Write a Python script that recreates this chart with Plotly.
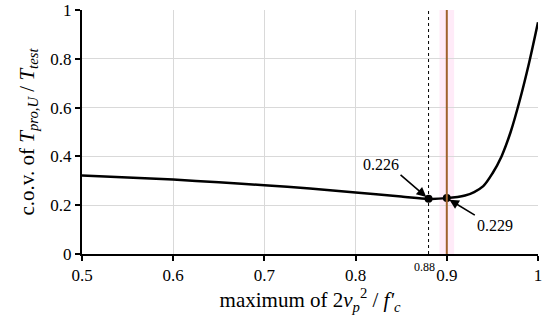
import plotly.graph_objects as go

# Data
x_vals = [0.5, 0.55, 0.6, 0.65, 0.7, 0.75, 0.8, 0.85, 0.88, 0.9, 0.92, 0.93, 0.94, 0.95, 0.96, 0.97, 0.98, 0.99, 1.0]
cov_vals = [0.322, 0.314, 0.305, 0.294, 0.282, 0.268, 0.252, 0.236, 0.226, 0.229, 0.24, 0.254, 0.278, 0.33, 0.40, 0.50, 0.63, 0.78, 0.95]
mark_x = [0.88, 0.9]
mark_y = [0.226, 0.229]
mark_labels = ["0.226", "0.229"]
x_ticks = [0.5, 0.6, 0.7, 0.8, 0.9, 1.0]
x_ticktext = ["0.5", "0.6", "0.7", "0.8", "0.9", "1"]
y_ticks = [0, 0.2, 0.4, 0.6, 0.8, 1.0]
y_ticktext = ["0", "0.2", "0.4", "0.6", "0.8", "1"]

FONT = "Liberation Serif"

fig = go.Figure()

# pink band and brown line at 0.9
fig.add_shape(type="rect", x0=0.892, x1=0.908, y0=0, y1=1, xref="x", yref="y",
              fillcolor="rgba(255,205,238,0.4)", line_width=0, layer="below")
fig.add_shape(type="line", x0=0.9, x1=0.9, y0=0, y1=1, xref="x", yref="y",
              line=dict(color="#A0622D", width=2))
# dotted line at 0.88
fig.add_shape(type="line", x0=0.88, x1=0.88, y0=0, y1=1, xref="x", yref="y",
              line=dict(color="black", width=1, dash="dot"))
# small tick at 0.88
fig.add_shape(type="line", x0=0.88, x1=0.88, y0=0, y1=-0.02, xref="x", yref="y",
              line=dict(color="black", width=1))

fig.add_trace(go.Scatter(x=x_vals, y=cov_vals, mode="lines",
                         line=dict(color="black", width=2.5, shape="spline", smoothing=0.9),
                         showlegend=False, hoverinfo="skip"))
fig.add_trace(go.Scatter(x=mark_x, y=mark_y, mode="markers",
                         marker=dict(color="black", size=8), showlegend=False, hoverinfo="skip"))

# annotations
fig.add_annotation(x=mark_x[0], y=mark_y[0], xref="x", yref="y", text=mark_labels[0],
                   showarrow=True, arrowhead=2, arrowsize=1.2, arrowwidth=1.6, arrowcolor="black",
                   ax=-28, ay=-24, xanchor="right", yanchor="bottom",
                   font=dict(family=FONT, size=16, color="black"), standoff=3)
fig.add_annotation(x=mark_x[1], y=mark_y[1], xref="x", yref="y", text=mark_labels[1],
                   showarrow=True, arrowhead=2, arrowsize=1.2, arrowwidth=1.6, arrowcolor="black",
                   ax=28, ay=17, xanchor="left", yanchor="top",
                   font=dict(family=FONT, size=16, color="black"), standoff=3)
# 0.88 tick label
fig.add_annotation(x=0.88, y=0, xref="x", yref="y", text="0.88", showarrow=False,
                   yanchor="top", yshift=-4, xshift=-4,
                   font=dict(family=FONT, size=12, color="black"))

fig.update_xaxes(range=[0.5, 1.0], tickvals=x_ticks, ticktext=x_ticktext,
                 showgrid=True, gridcolor="#d9d9d9", gridwidth=1,
                 showline=True, linecolor="black", linewidth=2,
                 ticks="outside", ticklen=5, tickwidth=2, tickcolor="black",
                 zeroline=False, automargin=False,
                 tickfont=dict(family=FONT, size=17, color="black"),
                 title=dict(text="maximum of 2<i>v</i><sub><i>p</i></sub><sup>2</sup> / <i>f'</i><sub><i>c</i></sub>",
                            font=dict(family=FONT, size=21, color="black"), standoff=8))
fig.update_yaxes(range=[0, 1.0], tickvals=y_ticks, ticktext=y_ticktext,
                 showgrid=True, gridcolor="#d9d9d9", gridwidth=1,
                 showline=True, linecolor="black", linewidth=2,
                 ticks="outside", ticklen=5, tickwidth=2, tickcolor="black",
                 zeroline=False, automargin=False,
                 tickfont=dict(family=FONT, size=17, color="black"),
                 title=dict(text="c.o.v. of <i>T</i><sub><i>pro,U</i></sub> / <i>T</i><sub><i>test</i></sub>",
                            font=dict(family=FONT, size=21, color="black"), standoff=10))

fig.update_layout(width=550, height=324, margin=dict(l=82, r=12, t=10, b=70),
                  plot_bgcolor="white", paper_bgcolor="white",
                  font=dict(family=FONT, color="black"))

fig.write_html("out.html", config={"displayModeBar": False},
               post_script="document.body.style.margin='0px';document.body.style.padding='0px';")
